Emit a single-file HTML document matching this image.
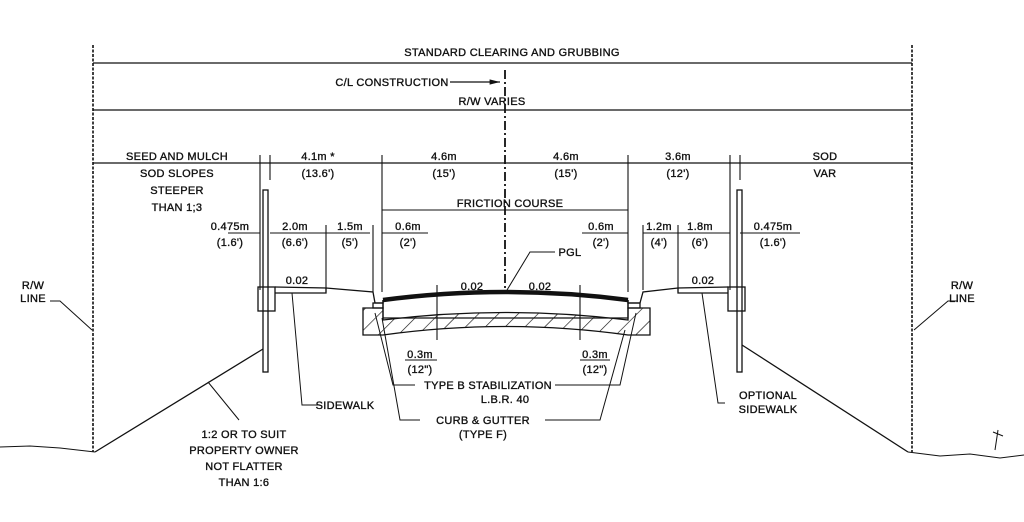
<!DOCTYPE html>
<html><head><style>
body{margin:0;background:#fff}
svg text{font-family:"Liberation Sans",sans-serif;font-size:11px;fill:#111;stroke:#111;stroke-width:0.35;text-anchor:middle;letter-spacing:0.3px}
</style></head><body>
<svg width="1024" height="517" viewBox="0 0 1024 517" xmlns="http://www.w3.org/2000/svg" stroke="#111" fill="none" stroke-width="1.3">
<defs>
<pattern id="h" width="14" height="14" patternUnits="userSpaceOnUse" patternTransform="rotate(45)"><line x1="0" y1="0" x2="0" y2="14" stroke="#111" stroke-width="1.3"/></pattern>
<marker id="a" markerWidth="8" markerHeight="6" refX="8" refY="3" orient="auto"><path d="M0,1 L8,3 L0,5" fill="#111" stroke="none"/></marker>
</defs>
<line x1="93" y1="45" x2="93" y2="452" stroke-dasharray="3,1.5" stroke-width="1.6"/>
<line x1="912" y1="45" x2="912" y2="452" stroke-dasharray="3,1.5" stroke-width="1.6"/>
<line x1="93" y1="63" x2="912" y2="63"/>
<line x1="93" y1="110" x2="912" y2="110"/>
<line x1="450" y1="82" x2="500" y2="82" marker-end="url(#a)"/>
<line x1="505" y1="70" x2="505" y2="290" stroke-dasharray="9,3,2,3" stroke-width="1.8"/>
<line x1="93" y1="163" x2="912" y2="163"/>
<g stroke-width="1.1">
<line x1="260" y1="155" x2="260" y2="290"/><line x1="270" y1="155" x2="270" y2="180"/>
<line x1="382" y1="155" x2="382" y2="292"/><line x1="628" y1="155" x2="628" y2="292"/>
<line x1="730" y1="155" x2="730" y2="290"/><line x1="740" y1="155" x2="740" y2="180"/>
<line x1="382" y1="210" x2="628" y2="210"/>
<line x1="228" y1="233" x2="260" y2="233"/><line x1="270" y1="233" x2="370" y2="233"/>
<line x1="326" y1="225" x2="326" y2="292"/><line x1="373" y1="225" x2="373" y2="292"/>
<line x1="382" y1="233" x2="428" y2="233"/><line x1="582" y1="233" x2="628" y2="233"/>
<line x1="643" y1="225" x2="643" y2="290"/><line x1="678" y1="225" x2="678" y2="292"/>
<line x1="643" y1="233" x2="730" y2="233"/><line x1="740" y1="233" x2="800" y2="233"/>
<line x1="437" y1="285" x2="437" y2="340"/><line x1="580" y1="285" x2="580" y2="340"/>
<line x1="405" y1="360" x2="437" y2="360"/><line x1="580" y1="360" x2="610" y2="360"/>
</g>
<rect x="263" y="190" width="5" height="182"/>
<rect x="258" y="287" width="17" height="24"/>
<path d="M275 287 L326 288 L326 293 L275 293"/>
<path d="M326 288 L373 292 L375 303 L383 303 L383 300"/>
<rect x="737" y="190" width="5" height="182"/>
<rect x="728" y="287" width="17" height="24"/>
<path d="M728 287 L678 288 L678 293 L728 293"/>
<path d="M678 288 L643 292 L640 303 L628 303 L628 300"/>
<path d="M383 300 Q505 284 628 300" stroke-width="4.5"/>
<path d="M383 300 L383 318 L628 318 L628 300"/>
<path d="M363 308 L383 308 L383 320 Q505 305 628 320 L628 308 L650 308 L650 335 L628 335 Q505 318 383 335 L363 335 Z" fill="url(#h)"/>
<rect x="373" y="303" width="10" height="5"/><rect x="628" y="303" width="12" height="5"/>
<path d="M263 349 L95 452"/>
<path d="M742 345 L908 452"/>
<path d="M0 447 L30 446 L60 448 L95 452" stroke-width="1"/>
<path d="M908 452 L940 456 L970 454 L1000 458 L1024 455" stroke-width="1"/>
<path d="M995 450 L998 430 M993 432 L1003 436" stroke-width="1"/>
<g stroke-width="1">
<path d="M50 301 L60 301 L92 330"/><path d="M958 301 L948 301 L914 330"/>
<path d="M239 420 L208 382"/>
<path d="M320 405 L302 405 L292 293"/>
<path d="M725 403 L718 403 L702 293"/>
<path d="M555 252 L530 252 L507 290"/>
<path d="M415 385 L393 385 L375 313"/><path d="M555 385 L620 385 L636 313"/>
<path d="M420 420 L400 420 L382 318"/><path d="M545 420 L600 420 L625 330"/>
</g>
<g>
<text x="512" y="56">STANDARD CLEARING AND GRUBBING</text>
<text x="392" y="86">C/L CONSTRUCTION</text>
<text x="492" y="105">R/W VARIES</text>
<text x="177" y="160">SEED AND MULCH</text>
<text x="177" y="177">SOD SLOPES</text>
<text x="177" y="194">STEEPER</text>
<text x="177" y="211">THAN 1;3</text>
<text x="318" y="160">4.1m *</text><text x="318" y="177">(13.6')</text>
<text x="444" y="160">4.6m</text><text x="444" y="177">(15')</text>
<text x="566" y="160">4.6m</text><text x="566" y="177">(15')</text>
<text x="678" y="160">3.6m</text><text x="678" y="177">(12')</text>
<text x="825" y="160">SOD</text><text x="825" y="177">VAR</text>
<text x="510" y="207">FRICTION COURSE</text>
<text x="230" y="230">0.475m</text><text x="230" y="246">(1.6')</text>
<text x="295" y="230">2.0m</text><text x="295" y="246">(6.6')</text>
<text x="350" y="230">1.5m</text><text x="350" y="246">(5')</text>
<text x="408" y="230">0.6m</text><text x="408" y="246">(2')</text>
<text x="601" y="230">0.6m</text><text x="601" y="246">(2')</text>
<text x="659" y="230">1.2m</text><text x="659" y="246">(4')</text>
<text x="700" y="230">1.8m</text><text x="700" y="246">(6')</text>
<text x="773" y="230">0.475m</text><text x="773" y="246">(1.6')</text>
<text x="297" y="284">0.02</text><text x="472" y="290">0.02</text><text x="540" y="290">0.02</text><text x="703" y="284">0.02</text>
<text x="570" y="256">PGL</text>
<text x="33" y="289">R/W</text><text x="33" y="302">LINE</text>
<text x="962" y="289">R/W</text><text x="962" y="302">LINE</text>
<text x="420" y="358">0.3m</text><text x="420" y="373">(12")</text>
<text x="595" y="358">0.3m</text><text x="595" y="373">(12")</text>
<text x="488" y="389">TYPE B STABILIZATION</text>
<text x="505" y="403">L.B.R. 40</text>
<text x="483" y="424">CURB &amp; GUTTER</text>
<text x="483" y="438">(TYPE F)</text>
<text x="345" y="409">SIDEWALK</text>
<text x="768" y="399">OPTIONAL</text><text x="768" y="413">SIDEWALK</text>
<text x="244" y="438">1:2 OR TO SUIT</text>
<text x="244" y="454">PROPERTY OWNER</text>
<text x="244" y="470">NOT FLATTER</text>
<text x="244" y="486">THAN 1:6</text>
</g>
</svg>
</body></html>
